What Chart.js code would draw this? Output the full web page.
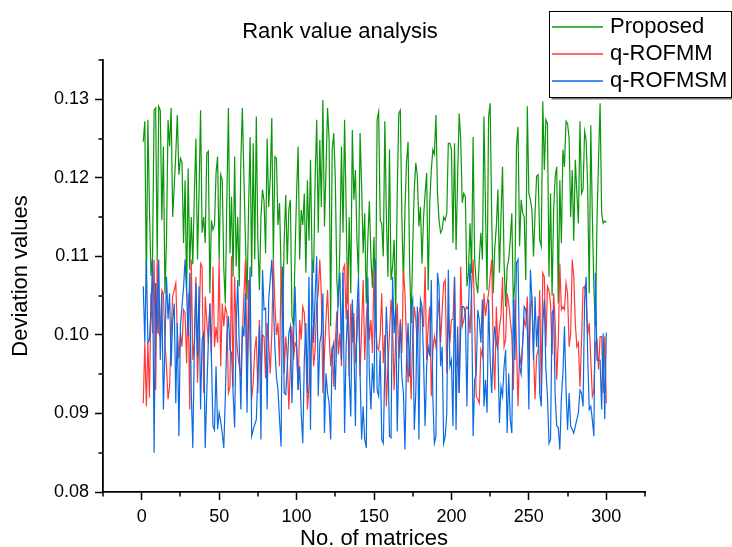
<!DOCTYPE html>
<html lang="en">
<head>
<meta charset="UTF-8">
<title>Rank value analysis</title>
<script src="https://cdn.jsdelivr.net/npm/chart.js"></script>
<style>
  html, body { margin: 0; padding: 0; background: #fff; }
  #wrap { width: 732px; height: 547px; }
</style>
</head>
<body>
<div id="wrap"><canvas id="rankChart" width="732" height="547"></canvas></div>
<script>
// values, one per matrix (1..300)
const proposed = [
  0.1246,0.1272,0.1060,0.1274,0.1160,0.1075,0.1100,0.1286,0.1289,0.1095,
  0.1291,0.1286,0.1146,0.1240,0.1053,0.1120,0.1274,0.1240,0.1289,0.1150,
  0.1190,0.1230,0.1280,0.1204,0.1225,0.1220,0.1117,0.1197,0.1053,0.1212,
  0.1083,0.1150,0.1090,0.1180,0.1250,0.1096,0.1180,0.1286,0.1130,0.1150,
  0.1117,0.1231,0.1234,0.1053,0.1146,0.1134,0.1140,0.1206,
  0.1227,0.1096,0.1204,0.1197,0.1085,0.1040,0.1176,0.1289,0.1104,0.1176,
  0.1074,0.1227,0.1087,0.1150,0.1062,0.1220,0.1289,0.1200,0.1120,0.1045,
  0.1160,0.1252,0.1074,0.1244,0.1096,0.1278,0.1120,0.1057,0.1150,0.1185,
  0.1170,0.1104,0.1250,0.1163,0.1200,0.1276,0.1096,0.1227,0.1225,0.1140,
  0.1168,0.1080,0.1015,0.1120,0.1178,0.1090,0.1160,0.1172,0.1024,0.1011,
  0.1100,0.1180,0.1240,0.1096,0.1159,0.1140,0.1180,0.1079,0.1197,0.1120,
  0.1223,0.1096,0.1079,0.1200,0.1274,0.1130,0.1248,0.1163,0.1299,0.1138,
  0.1210,0.1289,0.1250,0.1011,0.1236,0.1257,0.1200,0.1070,0.1036,0.1119,
  0.1240,0.1130,0.1274,0.1160,0.1040,0.1150,0.1053,0.1261,0.1172,0.1210,
  0.1120,0.1074,0.1257,0.1190,0.1104,0.1155,0.1040,0.1120,0.1170,0.1100,
  0.1060,0.1125,0.1015,0.1274,0.1284,0.1146,0.1142,0.1100,0.1272,0.1150,
  0.1074,0.1236,0.1070,0.1087,0.1121,0.1028,0.1180,0.1282,0.1286,0.1150,
  0.1065,0.1160,0.1220,0.1246,0.1087,0.1015,0.1113,0.1185,0.1219,0.1202,
  0.1138,0.1163,0.1091,0.1150,0.1180,0.1206,0.1057,0.1168,0.1210,0.1236,
  0.1230,0.1280,0.1180,0.1146,0.1130,0.1134,0.1150,0.1146,0.1155,0.1244,
  0.1244,0.1236,0.1117,0.1244,0.1108,0.1200,0.1282,0.1248,0.1168,0.1180,
  0.1176,0.1062,0.1079,0.1142,0.1079,0.1252,0.1096,0.1066,0.1053,0.1096,
  0.1130,0.1096,0.1278,0.1160,0.1057,0.1278,0.1295,0.1150,0.1053,0.1110,
  0.1138,0.1185,0.1079,0.1150,0.1214,0.1091,0.1036,0.1087,0.1096,0.1121,
  0.1155,0.1036,0.1070,0.1240,0.1265,0.1113,0.1172,0.1155,0.1150,0.1070,
  0.1291,
  0.1180,0.1172,0.1159,0.1100,0.1155,0.1202,0.1204,0.1121,0.1113,0.1297,
  0.1210,0.1274,0.1269,0.1074,0.1180,0.1050,0.1159,0.1202,0.1214,0.1040,
  0.1197,0.1117,0.1236,0.1214,0.1272,0.1269,0.1250,0.1150,0.1210,0.1120,
  0.1223,0.1180,0.1142,0.1272,0.1180,0.1185,0.1259,0.1248,0.1185,0.1053,
  0.1267,0.1150,0.1060,0.1011,0.1146,0.1223,0.1295,0.1155,0.1142,0.1145,0.1143
];

const qROFMM = [
  0.0913,0.0990,0.0909,0.0990,0.0920,0.1053,0.1002,0.1096,0.0930,0.1096,
  0.1002,0.0998,0.1057,0.1053,0.0990,0.0960,0.0918,0.0934,0.1000,0.1050,
  0.1057,0.1066,0.1002,0.0970,0.1002,0.0985,0.1032,0.1028,0.0964,0.1053,
  0.0905,0.1096,0.0968,0.0990,0.1074,0.0939,0.1000,0.1091,0.1087,0.0926,
  0.1049,0.1019,0.0990,0.1040,0.0975,0.1087,0.0985,0.1010,
  0.0990,0.1096,0.0960,0.1040,0.1011,0.1036,0.1028,0.0926,0.0934,0.1100,
  0.0934,0.1074,0.1000,0.0977,0.0960,0.0947,0.1000,0.1050,0.1096,0.0930,
  0.1070,0.0985,0.0918,0.0939,0.0981,0.0998,0.0926,0.1019,0.0947,0.1000,
  0.0998,0.0945,0.1015,0.0990,0.0951,0.1002,0.1096,0.1040,0.1000,0.1015,
  0.0960,0.1083,0.1074,0.0951,0.0998,0.0970,0.0905,0.0960,0.1011,0.0968,
  0.0990,0.0985,0.0930,0.1019,0.0994,0.1036,0.1028,0.0981,0.0905,0.0934,
  0.0968,0.1011,0.0960,0.0981,0.1040,0.1053,0.1096,0.1053,0.0926,0.0975,
  0.1020,0.1057,0.1002,0.0960,0.0985,0.0934,0.0990,0.1030,0.0975,0.1002,
  0.0960,0.1083,0.1089,0.1020,0.1091,0.0947,0.1040,0.0990,0.1028,0.0964,
  0.1000,0.1045,0.0947,0.1010,0.1070,0.0968,0.1020,0.1049,0.0994,0.1019,
  0.0977,0.1083,0.1010,0.0985,0.0981,0.1000,0.1053,0.0964,0.1000,0.0909,
  0.0960,0.1002,0.1045,0.1011,0.0930,0.0998,0.1040,0.0970,0.1020,0.0977,
  0.1083,0.1053,0.0990,0.0939,0.0980,0.0918,0.1000,0.1036,0.1019,0.0985,
  0.1028,0.1036,0.1028,0.1010,0.1087,0.0968,0.1011,0.1036,0.0922,0.0980,
  0.0998,0.0985,0.1020,0.1045,0.0990,0.1030,0.1066,0.1070,0.0951,0.1024,
  0.0990,0.1019,0.1020,0.1074,0.0960,0.0968,0.0926,0.1087,0.1011,0.1019,
  0.1032,0.1036,0.1032,0.1002,0.1057,0.1096,0.1019,0.0922,0.0918,0.0913,
  0.0981,0.0973,0.1053,0.1024,0.1040,0.1053,0.1075,0.1096,0.0981,0.0930,
  0.1036,0.0981,0.1010,0.1024,0.1074,0.0985,0.0994,0.1053,0.1040,0.1019,
  0.1000,0.0930,0.1045,0.0990,0.0909,0.0977,0.0960,0.0990,0.1019,0.1011,
  0.1049,
  0.0968,0.1036,0.1045,0.0977,0.0918,0.0973,0.0981,0.1057,0.0926,0.1079,
  0.1074,0.0985,0.1062,0.1057,0.1040,0.0975,0.1053,0.1015,0.0943,0.0990,
  0.1091,0.1032,0.1036,0.1032,0.1066,0.1053,0.0985,0.1002,0.1096,0.1074,
  0.1015,0.0985,0.0990,0.0934,0.0990,0.1060,0.1062,0.1045,0.1000,0.1015,
  0.0968,0.0922,0.0930,0.0990,0.0994,0.0956,0.0998,0.0998,0.0926,0.0998,0.0913
];

const qROFMSM = [
  0.1062,0.0990,0.1096,0.0990,0.0994,0.1032,0.1096,0.0850,0.1066,0.1002,
  0.1096,0.0968,0.1053,0.0905,0.0985,0.1074,0.1020,0.1053,0.0960,0.1019,
  0.1040,0.0913,0.1015,0.0871,0.1011,0.1036,0.1060,0.1096,0.1053,0.0998,
  0.1079,0.0926,0.0856,0.0985,0.1066,0.0973,0.1062,0.0905,0.0994,0.1002,
  0.0856,0.0926,0.0990,0.1040,0.0973,0.0884,0.0879,0.0960,
  0.0880,0.0901,0.0890,0.0875,0.0856,0.0922,0.1000,0.1024,0.0981,0.0977,
  0.0926,0.0882,0.1011,0.1070,0.0985,0.0905,0.1011,0.0998,0.1053,0.0901,
  0.1024,0.1087,0.0871,0.0879,0.0886,0.0892,0.0950,0.1011,0.0867,0.1083,
  0.1032,0.1034,0.0905,0.1045,0.1070,0.1096,0.1040,0.0985,0.0947,0.0930,
  0.0892,0.0858,0.1087,0.0926,0.0924,0.0960,0.1002,0.1011,0.0913,0.0990,
  0.1062,0.0990,0.0930,0.0960,0.0901,0.0862,0.0968,0.1015,0.0926,0.1074,
  0.0879,0.1096,0.0990,0.1050,0.1100,0.0922,0.0990,0.1002,0.1053,0.0875,
  0.0951,0.0926,0.0913,0.0867,0.0981,0.0990,0.0930,0.1000,0.1053,0.1079,
  0.0968,0.1079,0.0875,0.0985,0.1032,0.0950,0.0896,0.1045,0.0990,0.0884,
  0.1030,0.1074,0.0951,0.0867,0.0909,0.0867,0.0856,0.1074,0.0950,0.0905,
  0.0964,0.0926,0.1096,0.0930,0.0922,0.0980,0.0867,0.0862,0.0960,0.1036,
  0.0977,0.0871,0.0869,0.1074,0.1002,0.1036,0.0877,0.0968,0.1015,0.0947,
  0.0926,0.0854,0.0968,0.1015,0.0947,0.1036,0.1045,0.0879,0.0926,0.1036,
  0.0867,0.1045,0.1036,0.0968,0.0884,0.0960,0.0985,0.0973,0.1070,0.0920,
  0.0862,0.0871,0.1079,0.1062,0.0960,0.0985,0.0862,0.0871,0.0900,0.1083,
  0.0960,0.0968,0.0884,0.1074,0.0879,0.1011,0.0926,0.1007,0.1036,0.1036,
  0.1028,0.0909,0.1032,0.1091,0.1053,0.0871,0.0943,0.0950,0.1032,0.1019,
  0.0990,0.1045,0.0909,0.0943,0.0901,0.1045,0.0968,0.0926,0.0985,0.1011,
  0.0990,0.0981,0.0888,0.0934,0.0922,0.0960,0.0981,0.0875,0.0951,0.0892,
  0.0875,0.1045,0.0968,0.1091,0.1096,0.0960,0.0950,0.0990,0.1036,0.1032,
  0.1011,
  0.0905,0.1083,0.1045,0.0968,0.1049,0.0985,0.1024,0.0926,0.0909,0.1015,
  0.1045,0.0956,0.0922,0.0862,0.0867,0.1028,0.1032,0.0922,0.0884,0.0882,
  0.0854,0.0920,0.0951,0.1011,0.0930,0.0879,0.0926,0.0884,0.0880,0.0875,
  0.0884,0.0892,0.0901,0.0930,0.0926,0.0909,0.1045,0.1074,0.0973,0.0905,
  0.0909,0.0892,0.0871,0.1079,0.0968,0.0968,0.0968,0.0905,0.1002,0.0893,0.1003
];

const matrixNo = proposed.map((v, i) => i + 1);

const xTicks = [0, 50, 100, 150, 200, 250, 300];
const xMinorTicks = [-25, 25, 75, 125, 175, 225, 275, 325];
const yTicks = [0.08, 0.09, 0.10, 0.11, 0.12, 0.13];
const yMinorTicks = [0.085, 0.095, 0.105, 0.115, 0.125, 0.135];

const FONT = '"Liberation Sans", Arial, Helvetica, sans-serif';

// minor ticks, title and the boxed legend, drawn the Origin way
const decorations = {
    id: 'decorations',
    afterDraw(chart) {
        const ctx = chart.ctx;
        const xs = chart.scales.x, ys = chart.scales.y;
        ctx.save();
        ctx.strokeStyle = '#000';
        ctx.lineWidth = 1.5;
        ctx.beginPath();
        xMinorTicks.forEach(v => {
            const px = Math.round(xs.getPixelForValue(v));
            ctx.moveTo(px, ys.bottom);
            ctx.lineTo(px, ys.bottom + 4.5);
        });
        yMinorTicks.forEach(v => {
            const py = Math.round(ys.getPixelForValue(v));
            ctx.moveTo(xs.left, py);
            ctx.lineTo(xs.left - 4.5, py);
        });
        ctx.stroke();

        ctx.fillStyle = '#000';
        ctx.font = '22px ' + FONT;
        ctx.textAlign = 'center';
        ctx.textBaseline = 'middle';
        ctx.fillText('Rank value analysis', 340, 32);

        // legend box
        const bx = 549.5, by = 11.5, bw = 182, bh = 86;
        ctx.fillStyle = '#fff';
        ctx.fillRect(bx, by, bw, bh);
        ctx.fillStyle = '#777';
        ctx.fillRect(bx + 2, by + bh, bw, 2);
        ctx.strokeStyle = '#000';
        ctx.lineWidth = 1;
        ctx.strokeRect(bx, by, bw, bh);
        ctx.textAlign = 'left';
        ctx.font = '22px ' + FONT;
        chart.data.datasets.forEach((ds, i) => {
            const ly = 27 + i * 27;
            ctx.strokeStyle = ds.borderColor;
            ctx.lineWidth = 1.5;
            ctx.beginPath();
            ctx.moveTo(552, ly);
            ctx.lineTo(603, ly);
            ctx.stroke();
            ctx.fillStyle = '#000';
            ctx.fillText(ds.label, 610, ly);
        });
        ctx.restore();
    }
};

const ctx = document.getElementById('rankChart').getContext('2d');
new Chart(ctx, {
    type: 'line',
    data: {
        labels: matrixNo,
        datasets: [{
            label: 'Proposed',
            data: proposed,
            borderColor: '#0a980a',
            borderWidth: 1.2,
            order: 2
        }, {
            label: 'q-ROFMM',
            data: qROFMM,
            borderColor: '#ff3838',
            borderWidth: 1.2,
            order: 1
        }, {
            label: 'q-ROFMSM',
            data: qROFMSM,
            borderColor: '#0a6be2',
            borderWidth: 1.2,
            order: 0
        }]
    },
    options: {
        responsive: false,
        animation: false,
        devicePixelRatio: 1,
        layout: { padding: { top: 60, right: 87, left: 0, bottom: 0 } },
        elements: { point: { radius: 0 }, line: { tension: 0 } },
        plugins: {
            legend: { display: false },
            title: { display: false },
            tooltip: { enabled: false }
        },
        scales: {
            x: {
                type: 'linear',
                min: -25,
                max: 325,
                afterBuildTicks: scale => { scale.ticks = xTicks.map(v => ({ value: v })); },
                afterFit: scale => { scale.height = 55; },
                grid: { drawOnChartArea: false, drawTicks: true, tickLength: 8, tickColor: '#000', tickWidth: 1.5 },
                border: { display: true, color: '#000', width: 1.8 },
                ticks: { color: '#000', padding: 6, maxRotation: 0, font: { family: FONT, size: 18 } },
                title: {
                    display: true,
                    text: 'No. of matrices',
                    color: '#000',
                    font: { family: FONT, size: 22, lineHeight: 0.73 },
                    padding: { top: 0, bottom: 0 }
                }
            },
            y: {
                type: 'linear',
                min: 0.08,
                max: 0.135,
                afterBuildTicks: scale => { scale.ticks = yTicks.map(v => ({ value: v })); },
                afterFit: scale => { scale.width = 103; },
                grid: { drawOnChartArea: false, drawTicks: true, tickLength: 8, tickColor: '#000', tickWidth: 1.5 },
                border: { display: true, color: '#000', width: 1.8 },
                ticks: {
                    color: '#000',
                    padding: 6,
                    font: { family: FONT, size: 18 },
                    callback: v => Number(v).toFixed(2)
                },
                title: {
                    display: true,
                    text: 'Deviation values',
                    color: '#000',
                    font: { family: FONT, size: 22 },
                    padding: { top: 8, bottom: 0 }
                }
            }
        }
    },
    plugins: [decorations]
});
</script>
</body>
</html>
